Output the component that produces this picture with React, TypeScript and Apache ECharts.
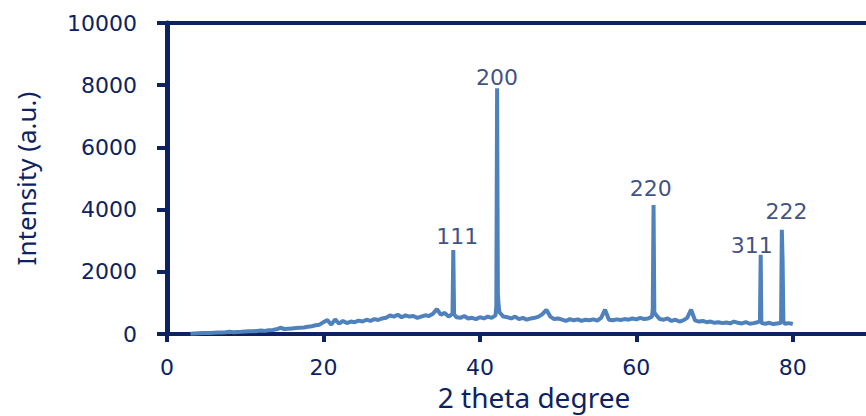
import React, { useEffect, useRef } from "react";
import * as echarts from "echarts";

// Baseline of the diffractogram, 2θ from 3.0 to 80.0 in 0.5° steps
const baseStart = 3;
const baseStep = 0.5;
const baseline = [
  10, 20, 25, 30, 30, 35, 40, 45, 45, 55, 70, 60, 65, 70, 80,
  90, 85, 100, 110, 100, 120, 130, 150, 200, 160, 170, 180, 190, 200, 210, 230, 250, 280, 300, 380,
  450, 300, 470, 330, 420, 350, 400, 380, 430, 400, 460, 420, 480, 450, 500, 520, 600, 560, 620, 540,
  600, 560, 580, 520, 560, 600, 580, 650, 800, 620, 680, 560, 650, 540, 520, 580, 500, 520, 480, 540,
  500, 560, 520, 600, 700, 560, 540, 500, 560, 480, 520, 460, 500, 520, 560, 640, 780, 560, 480, 500,
  460, 420, 480, 440, 470, 420, 460, 440, 470, 430, 520, 780, 460, 440, 470, 450, 480, 460, 500, 470,
  520, 480, 500, 560, 620, 480, 460, 500, 420, 460, 400, 440, 520, 780, 440, 400, 420, 380, 400, 360,
  380, 350, 370, 340, 400, 360, 340, 380, 330, 350, 380, 350, 330, 360, 320, 340, 360, 330, 350, 320,
];

// Sharp reflections (2θ, intensity)
const peakX = [36.6, 36.7, 42.1, 42.2, 42.3, 42.4, 62.1, 62.2, 62.3, 75.8, 75.9, 75.98, 78.6, 78.7, 78.8];
const peakY = [2700, 640, 900, 7900, 1300, 900, 800, 4150, 700, 420, 2550, 400, 3350, 2350, 400];

// Miller index labels and where they sit (2θ, intensity)
const hklNames = ["111", "200", "220", "311", "222"];
const hklX = [37.1, 42.2, 61.85, 74.75, 79.2];
const hklY = [3120, 8250, 4690, 2860, 3950];

const xTicks = { min: 0, max: 90, interval: 20 };
const yTicks = { min: 0, max: 10000, interval: 2000 };

const NAVY = "#0d2361";
const BLUE = "#4f81bd";

export default function App() {
  const ref = useRef<HTMLDivElement>(null);

  useEffect(() => {
    if (!ref.current) return;
    const chart = echarts.init(ref.current, null, { renderer: "svg" });

    const pts: number[][] = baseline.map((v, i) => [baseStart + i * baseStep, v]);
    peakX.forEach((x, i) => pts.push([x, peakY[i]]));
    pts.sort((a, b) => a[0] - b[0]);

    const labels = hklNames.map((n, i) => ({ name: n, value: [hklX[i], hklY[i]] }));

    chart.setOption({
      animation: false,
      grid: {
        left: 167,
        top: 23,
        width: 704,
        bottom: 82,
        outerBoundsMode: "none",
        containLabel: false,
        show: true,
        borderColor: NAVY,
        borderWidth: 4,
        backgroundColor: "transparent",
      },
      xAxis: {
        type: "value",
        min: xTicks.min,
        max: xTicks.max,
        interval: xTicks.interval,
        name: "2 theta degree",
        nameLocation: "middle",
        nameGap: 48,
        nameTextStyle: {
          color: NAVY,
          fontFamily: "Noto Sans",
          fontSize: 28,
          lineHeight: 28,
          padding: [0, 0, 0, 30],
        },
        axisLine: { show: true, lineStyle: { color: NAVY, width: 4 } },
        axisTick: { show: true, length: 8, lineStyle: { color: NAVY, width: 4 } },
        axisLabel: {
          color: NAVY,
          fontFamily: "DejaVu Sans",
          fontSize: 22,
          margin: 22,
          showMaxLabel: false,
        },
        splitLine: { show: false },
      },
      yAxis: {
        type: "value",
        min: yTicks.min,
        max: yTicks.max,
        interval: yTicks.interval,
        name: "Intensity (a.u.)",
        nameLocation: "middle",
        nameGap: 128,
        nameTextStyle: {
          color: NAVY,
          fontFamily: "Noto Sans",
          fontSize: 26,
        },
        axisLine: { show: true, lineStyle: { color: NAVY, width: 5 } },
        axisTick: { show: true, length: 10, lineStyle: { color: NAVY, width: 4 } },
        axisLabel: {
          color: NAVY,
          fontFamily: "DejaVu Sans",
          fontSize: 22,
          margin: 30,
          formatter: (v: number) => String(v),
        },
        splitLine: { show: false },
      },
      series: [
        {
          type: "line",
          data: pts,
          showSymbol: false,
          symbol: "none",
          lineStyle: { color: BLUE, width: 4 },
          z: 2,
        },
        {
          type: "scatter",
          data: labels,
          symbolSize: 0,
          label: {
            show: true,
            position: "inside",
            formatter: "{b}",
            color: NAVY,
            fontFamily: "DejaVu Sans",
            fontSize: 22,
          },
          z: 3,
        },
      ],
    });

    return () => chart.dispose();
  }, []);

  return (
    <div
      ref={ref}
      style={{ position: "absolute", left: 0, top: 0, width: 866, height: 416 }}
    />
  );
}
